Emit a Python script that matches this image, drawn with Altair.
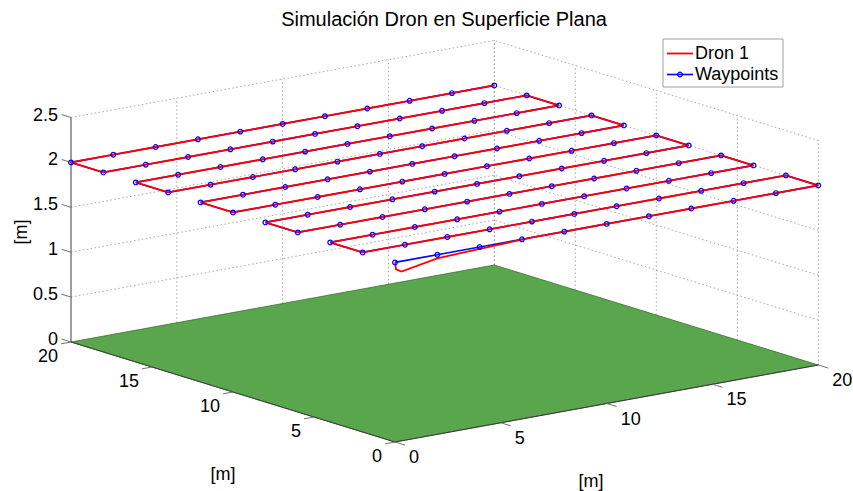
import altair as alt
import numpy as np
import pandas as pd

# ---------------- data ----------------
title_text = "Simulación Dron en Superficie Plana"
series_names = ["Dron 1", "Waypoints"]
axis_title = "[m]"

row_y = [0, 2, 4, 6, 8, 10, 12, 14, 16, 18, 20]          # waypoint rows (y, m)
col_x = [0, 2, 4, 6, 8, 10, 12, 14, 16, 18, 20]          # waypoints along each row (x, m)
flight_z = 2.0                                            # flight altitude (m)

# drone take-off transient before it joins the waypoint track
drone_start_x = [0.0, 0.05, 0.3, 2.0, 4.6, 6.5]
drone_start_y = [0.0, 0.0, 0.0, 0.0, 0.0, 0.0]
drone_start_z = [2.0, 1.92, 1.885, 1.96, 1.985, 2.0]

plane_x = [0, 20, 20, 0, 0]
plane_y = [0, 0, 20, 20, 0]
xy_ticks = [0, 5, 10, 15, 20]
z_ticks = [0, 0.5, 1, 1.5, 2, 2.5]
z_tick_labels = ["0", "0.5", "1", "1.5", "2", "2.5"]

# ---------------- view (MATLAB-like orthographic projection) ----------------
O = (395.0, 442.0)
EX = (21.165, -3.85)
EY = (-16.2, -5.0)
EZ = (0.0, -89.8)


def proj(x, y, z):
    x = np.asarray(x, float)
    y = np.asarray(y, float)
    z = np.asarray(z, float)
    return (O[0] + x * EX[0] + y * EY[0] + z * EZ[0],
            O[1] + x * EX[1] + y * EY[1] + z * EZ[1])


W, H = 853, 491
XS = alt.Scale(domain=[0, W], nice=False, zero=False)
YS = alt.Scale(domain=[0, H], reverse=True, nice=False, zero=False)
FONT = "Liberation Sans"

XMAX = xy_ticks[-1]
ZMAX = z_ticks[-1]


def segs(pairs):
    rows = []
    for (a, b) in pairs:
        x1, y1 = proj(*a)
        x2, y2 = proj(*b)
        rows.append(dict(x1=float(x1), y1=float(y1), x2=float(x2), y2=float(y2)))
    return pd.DataFrame(rows)


def rule_layer(df, **mk):
    return alt.Chart(df).mark_rule(**mk).encode(
        x=alt.X("x1:Q", scale=XS, axis=None),
        y=alt.Y("y1:Q", scale=YS, axis=None),
        x2="x2:Q", y2="y2:Q")


# grid on the two back walls
grid_pairs = []
for xv in xy_ticks[1:]:
    grid_pairs.append(((xv, XMAX, 0), (xv, XMAX, ZMAX)))
for zv in z_ticks[1:]:
    grid_pairs.append(((0, XMAX, zv), (XMAX, XMAX, zv)))
for yv in xy_ticks:
    grid_pairs.append(((XMAX, yv, 0), (XMAX, yv, ZMAX)))
for zv in z_ticks[1:]:
    grid_pairs.append(((XMAX, 0, zv), (XMAX, XMAX, zv)))
grid = rule_layer(segs(grid_pairs), color="#a6a6a6", strokeWidth=1, strokeDash=[1.5, 2.5])

# green ground plane
px, py = proj(plane_x, plane_y, [0] * len(plane_x))
plane_df = pd.DataFrame(dict(px=px, py=py, i=range(len(plane_x))))
plane = alt.Chart(plane_df).mark_line(fill="#5aa64c", stroke="#3f6e37", strokeWidth=0.8).encode(
    x=alt.X("px:Q", scale=XS, axis=None),
    y=alt.Y("py:Q", scale=YS, axis=None),
    order="i:Q")

# axis lines
axis_pairs = [((0, XMAX, 0), (0, XMAX, ZMAX)),
              ((0, 0, 0), (XMAX, 0, 0)),
              ((0, 0, 0), (0, XMAX, 0))]
axes_lines = rule_layer(segs(axis_pairs), color="#3c3c3c", strokeWidth=1)

# tick marks
tick_pairs = []
for zv in z_ticks:
    tick_pairs.append(((0, XMAX, zv), (0, XMAX + 0.58, zv)))
for yv in xy_ticks:
    tick_pairs.append(((0, yv, 0), (-0.47, yv, 0)))
for xv in xy_ticks:
    tick_pairs.append(((xv, 0, 0), (xv, -0.62, 0)))
ticks = rule_layer(segs(tick_pairs), color="#707070", strokeWidth=1)


def text_layer(df, **mk):
    return alt.Chart(df).mark_text(font=FONT, fontSize=18, color="black", **mk).encode(
        x=alt.X("px:Q", scale=XS, axis=None),
        y=alt.Y("py:Q", scale=YS, axis=None),
        text="label:N")


zx, zy = proj([0] * len(z_ticks), [XMAX] * len(z_ticks), z_ticks)
zlab = text_layer(pd.DataFrame(dict(px=zx, py=zy, label=z_tick_labels)),
                  align="right", baseline="middle", dx=-13, dy=-2)
yx, yy = proj([0] * len(xy_ticks), xy_ticks, [0] * len(xy_ticks))
ylab = text_layer(pd.DataFrame(dict(px=yx, py=yy, label=[str(v) for v in xy_ticks])),
                  align="right", baseline="middle", dx=-13, dy=15)
xx, xy_ = proj(xy_ticks, [0] * len(xy_ticks), [0] * len(xy_ticks))
xlab = text_layer(pd.DataFrame(dict(px=xx, py=xy_, label=[str(v) for v in xy_ticks])),
                  align="left", baseline="middle", dx=14, dy=16)

# waypoint path (lawn-mower)
wx, wy, wz = [], [], []
for i, yv in enumerate(row_y):
    xs = col_x if i % 2 == 0 else col_x[::-1]
    for xv in xs:
        wx.append(xv)
        wy.append(yv)
        wz.append(flight_z)
wpx, wpy = proj(wx, wy, wz)
wp_df = pd.DataFrame(dict(px=wpx, py=wpy, i=range(len(wx))))

dx_ = list(drone_start_x) + wx[4:]
dy_ = list(drone_start_y) + wy[4:]
dz_ = list(drone_start_z) + wz[4:]
dpx, dpy = proj(dx_, dy_, dz_)
dr_df = pd.DataFrame(dict(px=dpx, py=dpy, i=range(len(dx_))))

enc = dict(x=alt.X("px:Q", scale=XS, axis=None),
           y=alt.Y("py:Q", scale=YS, axis=None),
           order="i:Q")
wp_line = alt.Chart(wp_df).mark_line(color="#0000ff", strokeWidth=1.6).encode(**enc)
dr_line = alt.Chart(dr_df).mark_line(color="#ff0000", strokeWidth=1.8).encode(**enc)
wp_pts = alt.Chart(wp_df).mark_point(shape="circle", filled=False, size=22,
                                     color="#0000ff", strokeWidth=1.2, opacity=1).encode(
    x=alt.X("px:Q", scale=XS, axis=None), y=alt.Y("py:Q", scale=YS, axis=None))

one = pd.DataFrame({"k": [0]})


def vtext(txt, x, y, **mk):
    base = dict(font=FONT, fontSize=18, color="black")
    base.update(mk)
    return alt.Chart(one).mark_text(**base).encode(
        x=alt.value(x), y=alt.value(y), text=alt.value(txt))


title = vtext(title_text, 444, 26, align="center", baseline="alphabetic", fontSize=20)
ztitle = vtext(axis_title, 22, 232, align="center", baseline="middle", angle=270)
ytitle = vtext(axis_title, 223, 475, align="center", baseline="middle")
xtitle = vtext(axis_title, 591, 482, align="center", baseline="middle")

# legend
leg_box = alt.Chart(one).mark_rect(fill="white", stroke="#a0a0a0", strokeWidth=1).encode(
    x=alt.value(663), x2=alt.value(783), y=alt.value(39), y2=alt.value(87))
leg_red = alt.Chart(one).mark_rule(color="#ff0000", strokeWidth=1.8).encode(
    x=alt.value(667), x2=alt.value(693), y=alt.value(53.5))
leg_blue = alt.Chart(one).mark_rule(color="#0000ff", strokeWidth=1.6).encode(
    x=alt.value(667), x2=alt.value(693), y=alt.value(74.5))
leg_pt = alt.Chart(one).mark_point(shape="circle", filled=False, size=22, color="#0000ff",
                                   strokeWidth=1.2, opacity=1).encode(
    x=alt.value(680), y=alt.value(74.5))
leg_t1 = vtext(series_names[0], 695, 53.5, align="left", baseline="middle")
leg_t2 = vtext(series_names[1], 695, 74.5, align="left", baseline="middle")

chart = alt.layer(
    grid, plane, axes_lines, ticks, zlab, ylab, xlab,
    wp_line, dr_line, wp_pts,
    title, ztitle, ytitle, xtitle,
    leg_box, leg_red, leg_blue, leg_pt, leg_t1, leg_t2,
).properties(
    width=W, height=H, padding=0, background="white",
    autosize=alt.AutoSizeParams(type="none"),
).configure_view(stroke=None)

chart.save("out.html", embed_options={"renderer": "svg", "actions": False})
